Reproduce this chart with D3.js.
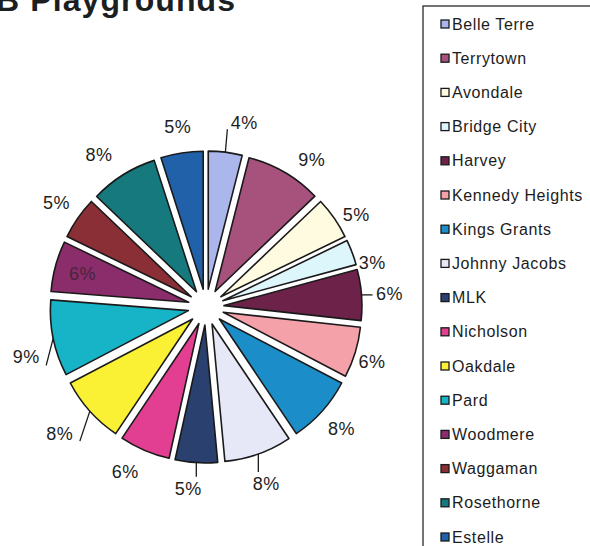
<!DOCTYPE html>
<html>
<head>
<meta charset="utf-8">
<script src="https://cdn.jsdelivr.net/npm/d3@7/dist/d3.min.js"></script>
<style>
  html, body { margin: 0; padding: 0; background: #fff; }
  svg { display: block; }
</style>
</head>
<body>
<svg id="chart" width="590" height="546"></svg>
<script>
// Playground share by site (percent)
const categories = ["Belle Terre", "Terrytown", "Avondale", "Bridge City", "Harvey",
  "Kennedy Heights", "Kings Grants", "Johnny Jacobs", "MLK", "Nicholson", "Oakdale",
  "Pard", "Woodmere", "Waggaman", "Rosethorne", "Estelle"];
const values = [4, 9, 5, 3, 6, 6, 8, 8, 5, 6, 8, 9, 6, 5, 8, 5];
const colors = ["#aab6ec", "#a6527c", "#fffbe0", "#dcf6fb", "#6c2249", "#f5a1aa",
  "#1b8dc8", "#e6e8f7", "#2a406f", "#e23f92", "#faf135", "#17b3c6", "#8b2c6b",
  "#8b2f36", "#15797e", "#2161aa"];
const titleText = "B Playgrounds";

const svg = d3.select("#chart");
const cx = 206, cy = 307;
const r = 138, explode = 18;

const data = categories.map((c, i) => ({ name: c, value: values[i], color: colors[i] }));

const pie = d3.pie().value(d => d.value).sort(null);
const arcs = pie(data);
const arc = d3.arc().innerRadius(0).outerRadius(r);

const polar = (rad, ang) => [Math.sin(ang) * rad, -Math.cos(ang) * rad];
const mid = a => (a.startAngle + a.endAngle) / 2;
const rad = deg => deg * Math.PI / 180;

// title
svg.append("text")
  .attr("x", -4).attr("y", 11)
  .attr("font-family", "Liberation Sans, Arial, sans-serif")
  .attr("font-weight", "bold").attr("font-size", 32)
  .attr("letter-spacing", 1.1)
  .attr("fill", "#1c1f22")
  .text(titleText);

// exploded slices
const g = svg.append("g").attr("transform", `translate(${cx},${cy})`);
g.selectAll("path.slice").data(arcs).enter().append("path")
  .attr("class", "slice")
  .attr("transform", d => { const [x, y] = polar(explode, mid(d)); return `translate(${x},${y})`; })
  .attr("d", arc)
  .attr("fill", d => d.data.color)
  .attr("stroke", "#1a1a1a")
  .attr("stroke-width", 1.6)
  .attr("stroke-linejoin", "round");

// label layout
// leader lines: line vector (dx, dy) from the slice rim, label centre (lx, ly) from the line end
const leader = {
  "Belle Terre": { dx: 2, dy: -23, lx: 17, ly: -6 },
  "Harvey": { dx: 11, dy: 0, lx: 17, ly: -1 },
  "Johnny Jacobs": { dx: 0, dy: 18, lx: 8, ly: 12 },
  "MLK": { dx: 0, dy: 14, lx: -8, ly: 12 },
  "Oakdale": { dx: -10, dy: 30, lx: -20, ly: -7 },
  "Pard": { dx: -7, dy: 27, lx: -20, ly: -8 }
};
// free labels: angular shift (deg) and radius tweaks from the default placement
const labelAdjust = {
  "Terrytown": [5.5, 181],
  "Avondale": [3.3, 176],
  "Bridge City": [5.7, 172],
  "Kennedy Heights": [1.4, 175],
  "Nicholson": [2.9, 184],
  "Rosethorne": [-3, 186]
};
const insideLabels = new Set(["Woodmere"]);
const labelR = 182;
const fs = 18;

const lab = g.append("g")
  .attr("font-family", "Liberation Sans, Arial, sans-serif")
  .attr("font-size", fs)
  .attr("letter-spacing", 0.5);

arcs.forEach(a => {
  const m = mid(a);
  const name = a.data.name;
  const txt = a.data.value + "%";
  let x, y, color = "#1e1e1e";
  if (leader[name]) {
    const L = leader[name];
    const p0 = polar(r + explode, m);
    const p1 = [p0[0] + L.dx, p0[1] + L.dy];
    lab.append("line")
      .attr("x1", p0[0]).attr("y1", p0[1]).attr("x2", p1[0]).attr("y2", p1[1])
      .attr("stroke", "#1a1a1a").attr("stroke-width", 1.3);
    x = p1[0] + L.lx;
    y = p1[1] + L.ly;
  } else if (insideLabels.has(name)) {
    [x, y] = polar(r - 10, m);
    color = "#3b2535";
  } else if (labelAdjust[name]) {
    const [dDeg, R] = labelAdjust[name];
    [x, y] = polar(R, m + rad(dDeg));
  } else {
    [x, y] = polar(labelR, m);
  }
  lab.append("text")
    .attr("x", x).attr("y", y)
    .attr("text-anchor", "middle")
    .attr("dominant-baseline", "central")
    .attr("fill", color)
    .attr("opacity", insideLabels.has(name) ? 0.85 : 1)
    .text(txt);
});

// legend
const legend = svg.append("g");
legend.append("rect")
  .attr("x", 423).attr("y", 6).attr("width", 200).attr("height", 600)
  .attr("fill", "#fff").attr("stroke", "#2a2a2a").attr("stroke-width", 1.3);

const rowY = d3.scalePoint().domain(categories).range([24, 537]);
const items = legend.selectAll("g.item").data(data).enter().append("g")
  .attr("class", "item")
  .attr("transform", d => `translate(0,${rowY(d.name)})`);
items.append("rect")
  .attr("x", 441).attr("y", -4).attr("width", 8).attr("height", 8)
  .attr("fill", d => d.color).attr("stroke", "#1a1a1a").attr("stroke-width", 1.3);
items.append("text")
  .attr("x", 452).attr("y", 0)
  .attr("dominant-baseline", "central")
  .attr("font-family", "Liberation Sans, Arial, sans-serif")
  .attr("font-size", 16).attr("letter-spacing", 0.6)
  .attr("fill", "#1c1c1c")
  .text(d => d.name);
</script>
</body>
</html>
